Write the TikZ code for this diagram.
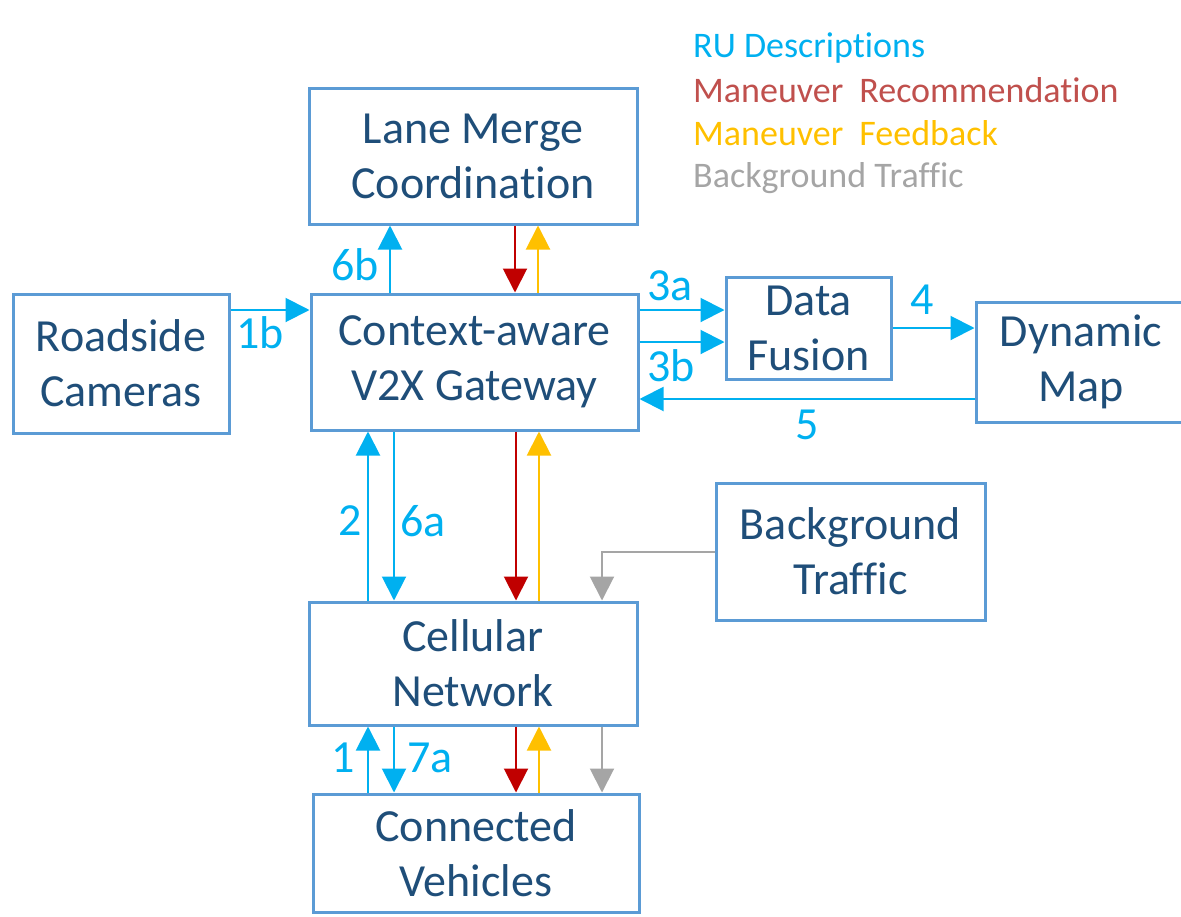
\documentclass[tikz,border=0pt]{standalone}
\usepackage{fontspec}
\setmainfont{Carlito}[Ligatures={NoCommon}]
\usetikzlibrary{arrows.meta}
\definecolor{boxline}{HTML}{5B9BD5}
\definecolor{boxtext}{HTML}{1F4E79}
\definecolor{rublue}{HTML}{00B0F0}
\definecolor{mred}{HTML}{C00000}
\definecolor{myellow}{HTML}{FFC000}
\definecolor{bggray}{HTML}{A5A5A5}
\definecolor{legred}{HTML}{C0504D}
\begin{document}
\begin{tikzpicture}[x=1pt,y=-1pt,
 blk/.style={draw=boxline,line width=3pt,fill=white,text=boxtext,font=\fontsize{46}{55}\selectfont,align=center,inner sep=0pt},
 flow/.style={line width=2pt,-{Triangle[length=24pt,width=24pt]}},
 ru/.style={flow,draw=rublue},
 rec/.style={flow,draw=mred},
 fb/.style={flow,draw=myellow},
 bg/.style={flow,draw=bggray},
 num/.style={text=rublue,font=\fontsize{46}{55}\selectfont,inner sep=0pt},
 leg/.style={anchor=base west,font=\fontsize{36}{40}\selectfont,inner sep=0pt}]
\useasboundingbox (0,0) rectangle (1181,916);
% boxes
\node[blk,minimum width=328pt,minimum height=136pt] (lm) at (473,156) {Lane Merge\\Coordination};
\node[blk,minimum width=216pt,minimum height=139pt] (rc) at (121,363.5) {Roadside\\Cameras};
\node[blk,minimum width=327pt,minimum height=136pt] (gw) at (474.5,362) {Context-aware\\V2X Gateway};
\node[blk,minimum width=165pt,minimum height=102pt] (df) at (808.5,328) {Data\\Fusion};
\node[blk,minimum width=210pt,minimum height=120pt] (dm) at (1081,362) {Dynamic\\Map};
\node[blk,minimum width=269pt,minimum height=137pt] (bt) at (850.5,551.5) {Background\\Traffic};
\node[blk,minimum width=328pt,minimum height=123pt] (cn) at (473,663.5) {Cellular\\Network};
\node[blk,minimum width=326pt,minimum height=118pt] (cv) at (476,853) {Connected\\Vehicles};
% legend
\node[leg,text=rublue] (l1) at (693,57) {RU Descriptions};
\node[leg,text=legred] (l2) at (693,102) {Maneuver\hspace{0.22em} Recommendation};
\node[leg,text=myellow] (l3) at (693,145) {Maneuver\hspace{0.22em} Feedback};
\node[leg,text=bggray] (l4) at (693,187) {Background Traffic};
% connectors
\draw[ru] (rc.east |- 0,310) -- (gw.west |- 0,310);
\draw[ru] (gw.north -| 390,0) -- (lm.south -| 390,0);
\draw[rec] (lm.south -| 515,0) -- (gw.north -| 515,0);
\draw[fb] (gw.north -| 538,0) -- (lm.south -| 538,0);
\draw[ru] (gw.east |- 0,310) -- (df.west |- 0,310);
\draw[ru] (gw.east |- 0,342) -- (df.west |- 0,342);
\draw[ru] (df.east |- 0,328) -- (dm.west |- 0,328);
\draw[ru] (dm.west |- 0,399) -- (gw.east |- 0,399);
\draw[ru] (cn.north -| 368,0) -- (gw.south -| 368,0);
\draw[ru] (gw.south -| 394,0) -- (cn.north -| 394,0);
\draw[rec] (gw.south -| 516,0) -- (cn.north -| 516,0);
\draw[fb] (cn.north -| 539,0) -- (gw.south -| 539,0);
\draw[bg] (bt.west |- 0,552) -- (602,552) -- (cn.north -| 602,0);
\draw[ru] (cv.north -| 368,0) -- (cn.south -| 368,0);
\draw[ru] (cn.south -| 394,0) -- (cv.north -| 394,0);
\draw[rec] (cn.south -| 516,0) -- (cv.north -| 516,0);
\draw[fb] (cv.north -| 539,0) -- (cn.south -| 539,0);
\draw[bg] (cn.south -| 602,0) -- (cv.north -| 602,0);
% labels
\node[num] (t1b) at (260,333) {1b};
\node[num] (t6b) at (355,265) {6b};
\node[num] (t3a) at (670,286) {3a};
\node[num] (t3b) at (671,366) {3b};
\node[num] (t4) at (922,300) {4};
\node[num] (t5) at (807,425) {5};
\node[num] (t2) at (350,521) {2};
\node[num] (t6a) at (423,521) {6a};
\node[num] (t1) at (343,758) {1};
\node[num] (t7a) at (430,758) {7a};
\end{tikzpicture}
\end{document}
